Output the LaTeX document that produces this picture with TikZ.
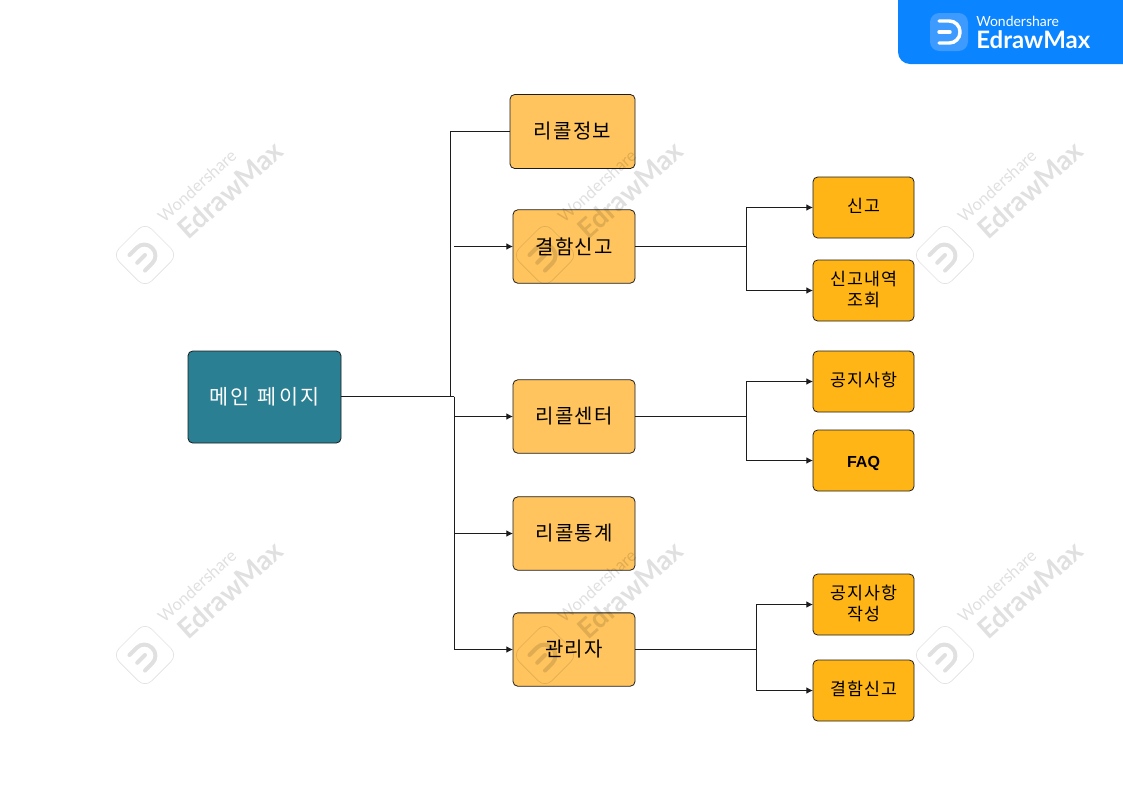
\documentclass[tikz,border=0pt]{standalone}
\usepackage{fontspec}
\setmainfont{Noto Sans CJK KR}
\newfontfamily\brandfont{Lato}
\newfontfamily\labelfont{Liberation Sans}
\newfontfamily\widefont[LetterSpace=6]{Noto Sans CJK KR}
\newfontfamily\widerfont[LetterSpace=13]{Noto Sans CJK KR}
\usepackage{tikz}
\usetikzlibrary{arrows.meta}
\definecolor{pagecol}{HTML}{2A7F93}
\definecolor{lightcol}{HTML}{FFC45E}
\definecolor{darkcol}{HTML}{FFB515}
\definecolor{edgecol}{HTML}{1C1C1C}
\definecolor{bannercol}{HTML}{0A84FF}
\definecolor{logocol}{HTML}{3D9BFF}
\tikzset{
	main node/.style={draw=edgecol,rounded corners=3.5pt,inner sep=0pt,outer sep=0pt,align=center,line width=0.6pt},
	page node/.style={main node,fill=pagecol,text=white,minimum width=114.75pt,minimum height=69pt,font=\widerfont\fontsize{15.5}{17}\selectfont},
	parent node/.style={main node,fill=lightcol,minimum width=91.5pt,minimum height=55pt,font=\widefont\fontsize{15}{17}\selectfont},
	leaf node/.style={main node,fill=darkcol,minimum width=75.75pt,minimum height=45.75pt,text depth=3pt,font=\widefont\fontsize{13}{15.5}\selectfont},
	link/.style={draw=edgecol,line width=0.75pt},
	arrow link/.style={link,-{Latex[length=5pt,width=5pt]}},
	dmark/.pic={
		\draw[line width=#1,line cap=round,rounded corners=8pt] (-11,-11) -- (10,-11) -- (10,11) -- (-11,11);
		\draw[line width=#1,line cap=round] (-11,0) -- (0,0);
	}
}

\begin{document}
\begin{tikzpicture}[x=0.75pt,y=-0.75pt]
	\useasboundingbox (0,0) rectangle (1123,794);
	% boxes
	\node [page node] (home) at (264.5,397) {메인 페이지};
	\node [parent node,minimum width=93.75pt,minimum height=55.5pt] (info) at (572.5,131.5) {리콜정보};
	\node [parent node] (defect) at (574,246.5) {결함신고};
	\node [parent node] (center) at (574,416.5) {리콜센터};
	\node [parent node] (stats) at (574,533.5) {리콜통계};
	\node [parent node] (admin) at (574,649.5) {관리자};
	\node [leaf node] (report) at (863.5,207.5) {신고};
	\node [leaf node] (history) at (863.5,290.5) {신고내역\\조회};
	\node [leaf node] (notice) at (863.5,381.5) {공지사항};
	\node [leaf node,text height=10.5pt,text depth=0pt,font=\labelfont\bfseries\fontsize{12}{15.5}\selectfont] (faq) at (863.5,460.5) {FAQ};
	\node [leaf node] (write) at (863.5,604.5) {공지사항\\작성};
	\node [leaf node] (defectleaf) at (863.5,690.5) {결함신고};
	% links
	\coordinate (trunkup) at (450.5,396.5);
	\coordinate (trunkdown) at (454,396.5);
	\coordinate (loose) at (454,246.5);
	\coordinate (forkA) at (746.5,246.5);
	\coordinate (forkB) at (746,416.5);
	\coordinate (forkC) at (756.5,649.5);
	\draw [link] (home.east |- trunkup) -- (trunkdown);
	\draw [link] (trunkup) |- (info.west);
	\draw [arrow link] (loose) -- (defect.west);
	\draw [arrow link] (trunkdown) |- (center.west);
	\draw [arrow link] (trunkdown) |- (stats.west);
	\draw [arrow link] (trunkdown) |- (admin.west);
	\draw [link] (defect.east) -- (forkA);
	\draw [arrow link] (forkA) |- (report.west);
	\draw [arrow link] (forkA) |- (history.west);
	\draw [link] (center.east) -- (forkB);
	\draw [arrow link] (forkB) |- (notice.west);
	\draw [arrow link] (forkB) |- (faq.west);
	\draw [link] (admin.east) -- (forkC);
	\draw [arrow link] (forkC) |- (write.west);
	\draw [arrow link] (forkC) |- (defectleaf.west);
	% watermarks
	\foreach \col in {0,400,800}
		\foreach \row in {0,400}{
			\begin{scope}[shift={(\col,\row)},black,opacity=0.12]
				\node [rotate=42,text=black,font=\brandfont\fontsize{12.5}{14}\selectfont] (wname\col\row) at (197,186) {Wondershare};
				\node [rotate=42,text=black,font=\brandfont\bfseries\fontsize{20.5}{22}\selectfont] (wedraw\col\row) at (230,190) {EdrawMax};
				\draw [rotate around={45:(145,255)},rounded corners=7pt,line width=0.5pt] (122,232) rectangle (168,278);
				\pic [rotate=45] at (145,255) {dmark=3pt};
			\end{scope}
		}
	% banner
	\fill [bannercol,rounded corners=9pt] (898,-20) -- (898,64) -- (1143,64) -- (1143,-20) -- cycle;
	\fill [logocol,rounded corners=7pt] (930,13) rectangle (968,51);
	\pic [white] at (950,32) {dmark=2.6pt};
	\node [anchor=west,inner sep=0pt,text=white,font=\brandfont\fontsize{10.5}{12}\selectfont] (bname) at (976,21) {Wondershare};
	\node [anchor=west,inner sep=0pt,text=white,font=\brandfont\bfseries\fontsize{18}{20}\selectfont] (bedraw) at (976,40) {EdrawMax};
\end{tikzpicture}
\end{document}
